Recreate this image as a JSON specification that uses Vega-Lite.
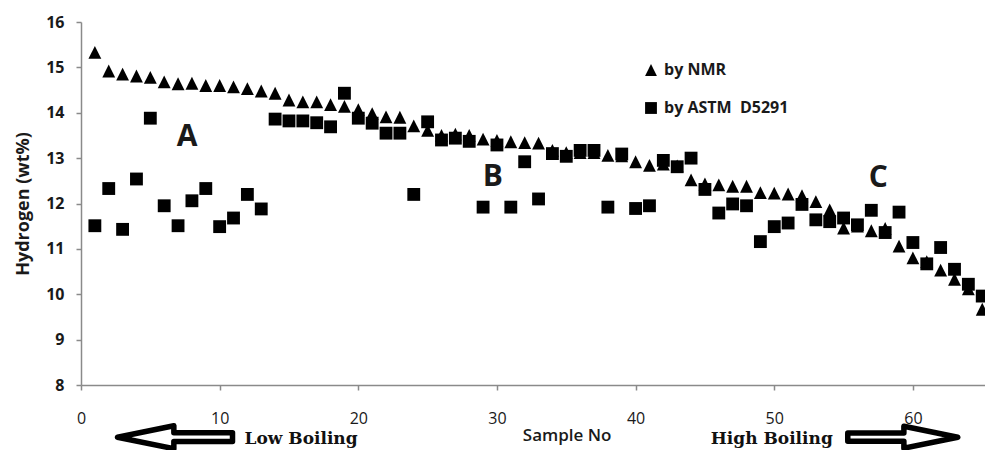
{
  "$schema": "https://vega.github.io/schema/vega-lite/v6.json",
  "width": 904,
  "height": 363,
  "autosize": {"type": "none"},
  "padding": {"left": 81, "top": 22, "right": 0, "bottom": 65},
  "background": "white",
  "config": {"view": {"stroke": null}, "font": "Open Sans"},
  "datasets": {
    "hydrogen": [
      {"sample": 1, "method": "by NMR", "h": 15.33}, {"sample": 2, "method": "by NMR", "h": 14.92}, {"sample": 3, "method": "by NMR", "h": 14.85}, {"sample": 4, "method": "by NMR", "h": 14.81}, {"sample": 5, "method": "by NMR", "h": 14.78},
      {"sample": 6, "method": "by NMR", "h": 14.68}, {"sample": 7, "method": "by NMR", "h": 14.64}, {"sample": 8, "method": "by NMR", "h": 14.65}, {"sample": 9, "method": "by NMR", "h": 14.6}, {"sample": 10, "method": "by NMR", "h": 14.6},
      {"sample": 11, "method": "by NMR", "h": 14.57}, {"sample": 12, "method": "by NMR", "h": 14.53}, {"sample": 13, "method": "by NMR", "h": 14.48}, {"sample": 14, "method": "by NMR", "h": 14.43}, {"sample": 15, "method": "by NMR", "h": 14.28},
      {"sample": 16, "method": "by NMR", "h": 14.24}, {"sample": 17, "method": "by NMR", "h": 14.24}, {"sample": 18, "method": "by NMR", "h": 14.18}, {"sample": 19, "method": "by NMR", "h": 14.14}, {"sample": 20, "method": "by NMR", "h": 14.07},
      {"sample": 21, "method": "by NMR", "h": 13.98}, {"sample": 22, "method": "by NMR", "h": 13.91}, {"sample": 23, "method": "by NMR", "h": 13.9}, {"sample": 24, "method": "by NMR", "h": 13.71}, {"sample": 25, "method": "by NMR", "h": 13.61},
      {"sample": 26, "method": "by NMR", "h": 13.5}, {"sample": 27, "method": "by NMR", "h": 13.53}, {"sample": 28, "method": "by NMR", "h": 13.5}, {"sample": 29, "method": "by NMR", "h": 13.42}, {"sample": 30, "method": "by NMR", "h": 13.39},
      {"sample": 31, "method": "by NMR", "h": 13.36}, {"sample": 32, "method": "by NMR", "h": 13.34}, {"sample": 33, "method": "by NMR", "h": 13.33}, {"sample": 34, "method": "by NMR", "h": 13.17}, {"sample": 35, "method": "by NMR", "h": 13.12},
      {"sample": 36, "method": "by NMR", "h": 13.12}, {"sample": 37, "method": "by NMR", "h": 13.12}, {"sample": 38, "method": "by NMR", "h": 13.06}, {"sample": 39, "method": "by NMR", "h": 13.05}, {"sample": 40, "method": "by NMR", "h": 12.92},
      {"sample": 41, "method": "by NMR", "h": 12.84}, {"sample": 42, "method": "by NMR", "h": 12.87}, {"sample": 43, "method": "by NMR", "h": 12.83}, {"sample": 44, "method": "by NMR", "h": 12.52}, {"sample": 45, "method": "by NMR", "h": 12.43},
      {"sample": 46, "method": "by NMR", "h": 12.41}, {"sample": 47, "method": "by NMR", "h": 12.38}, {"sample": 48, "method": "by NMR", "h": 12.38}, {"sample": 49, "method": "by NMR", "h": 12.24}, {"sample": 50, "method": "by NMR", "h": 12.23},
      {"sample": 51, "method": "by NMR", "h": 12.21}, {"sample": 52, "method": "by NMR", "h": 12.17}, {"sample": 53, "method": "by NMR", "h": 12.04}, {"sample": 54, "method": "by NMR", "h": 11.86}, {"sample": 55, "method": "by NMR", "h": 11.46},
      {"sample": 56, "method": "by NMR", "h": 11.5}, {"sample": 57, "method": "by NMR", "h": 11.4}, {"sample": 58, "method": "by NMR", "h": 11.45}, {"sample": 59, "method": "by NMR", "h": 11.06}, {"sample": 60, "method": "by NMR", "h": 10.8},
      {"sample": 61, "method": "by NMR", "h": 10.72}, {"sample": 62, "method": "by NMR", "h": 10.53}, {"sample": 63, "method": "by NMR", "h": 10.33}, {"sample": 64, "method": "by NMR", "h": 10.12}, {"sample": 65, "method": "by NMR", "h": 9.67},
      {"sample": 1, "method": "by ASTM\u00a0 D5291", "h": 11.51}, {"sample": 2, "method": "by ASTM\u00a0 D5291", "h": 12.33}, {"sample": 3, "method": "by ASTM\u00a0 D5291", "h": 11.43}, {"sample": 4, "method": "by ASTM\u00a0 D5291", "h": 12.54}, {"sample": 5, "method": "by ASTM\u00a0 D5291", "h": 13.88},
      {"sample": 6, "method": "by ASTM\u00a0 D5291", "h": 11.95}, {"sample": 7, "method": "by ASTM\u00a0 D5291", "h": 11.51}, {"sample": 8, "method": "by ASTM\u00a0 D5291", "h": 12.06}, {"sample": 9, "method": "by ASTM\u00a0 D5291", "h": 12.33}, {"sample": 10, "method": "by ASTM\u00a0 D5291", "h": 11.49},
      {"sample": 11, "method": "by ASTM\u00a0 D5291", "h": 11.68}, {"sample": 12, "method": "by ASTM\u00a0 D5291", "h": 12.2}, {"sample": 13, "method": "by ASTM\u00a0 D5291", "h": 11.88}, {"sample": 14, "method": "by ASTM\u00a0 D5291", "h": 13.86}, {"sample": 15, "method": "by ASTM\u00a0 D5291", "h": 13.82},
      {"sample": 16, "method": "by ASTM\u00a0 D5291", "h": 13.82}, {"sample": 17, "method": "by ASTM\u00a0 D5291", "h": 13.78}, {"sample": 18, "method": "by ASTM\u00a0 D5291", "h": 13.69}, {"sample": 19, "method": "by ASTM\u00a0 D5291", "h": 14.43}, {"sample": 20, "method": "by ASTM\u00a0 D5291", "h": 13.88},
      {"sample": 21, "method": "by ASTM\u00a0 D5291", "h": 13.77}, {"sample": 22, "method": "by ASTM\u00a0 D5291", "h": 13.55}, {"sample": 23, "method": "by ASTM\u00a0 D5291", "h": 13.55}, {"sample": 24, "method": "by ASTM\u00a0 D5291", "h": 12.2}, {"sample": 25, "method": "by ASTM\u00a0 D5291", "h": 13.8},
      {"sample": 26, "method": "by ASTM\u00a0 D5291", "h": 13.4}, {"sample": 27, "method": "by ASTM\u00a0 D5291", "h": 13.44}, {"sample": 28, "method": "by ASTM\u00a0 D5291", "h": 13.37}, {"sample": 29, "method": "by ASTM\u00a0 D5291", "h": 11.92}, {"sample": 30, "method": "by ASTM\u00a0 D5291", "h": 13.29},
      {"sample": 31, "method": "by ASTM\u00a0 D5291", "h": 11.92}, {"sample": 32, "method": "by ASTM\u00a0 D5291", "h": 12.92}, {"sample": 33, "method": "by ASTM\u00a0 D5291", "h": 12.1}, {"sample": 34, "method": "by ASTM\u00a0 D5291", "h": 13.1}, {"sample": 35, "method": "by ASTM\u00a0 D5291", "h": 13.04},
      {"sample": 36, "method": "by ASTM\u00a0 D5291", "h": 13.17}, {"sample": 37, "method": "by ASTM\u00a0 D5291", "h": 13.17}, {"sample": 38, "method": "by ASTM\u00a0 D5291", "h": 11.92}, {"sample": 39, "method": "by ASTM\u00a0 D5291", "h": 13.09}, {"sample": 40, "method": "by ASTM\u00a0 D5291", "h": 11.89},
      {"sample": 41, "method": "by ASTM\u00a0 D5291", "h": 11.95}, {"sample": 42, "method": "by ASTM\u00a0 D5291", "h": 12.95}, {"sample": 43, "method": "by ASTM\u00a0 D5291", "h": 12.81}, {"sample": 44, "method": "by ASTM\u00a0 D5291", "h": 13.0}, {"sample": 45, "method": "by ASTM\u00a0 D5291", "h": 12.31},
      {"sample": 46, "method": "by ASTM\u00a0 D5291", "h": 11.79}, {"sample": 47, "method": "by ASTM\u00a0 D5291", "h": 11.99}, {"sample": 48, "method": "by ASTM\u00a0 D5291", "h": 11.95}, {"sample": 49, "method": "by ASTM\u00a0 D5291", "h": 11.16}, {"sample": 50, "method": "by ASTM\u00a0 D5291", "h": 11.49},
      {"sample": 51, "method": "by ASTM\u00a0 D5291", "h": 11.57}, {"sample": 52, "method": "by ASTM\u00a0 D5291", "h": 11.98}, {"sample": 53, "method": "by ASTM\u00a0 D5291", "h": 11.64}, {"sample": 54, "method": "by ASTM\u00a0 D5291", "h": 11.6}, {"sample": 55, "method": "by ASTM\u00a0 D5291", "h": 11.68},
      {"sample": 56, "method": "by ASTM\u00a0 D5291", "h": 11.53}, {"sample": 57, "method": "by ASTM\u00a0 D5291", "h": 11.85}, {"sample": 58, "method": "by ASTM\u00a0 D5291", "h": 11.36}, {"sample": 59, "method": "by ASTM\u00a0 D5291", "h": 11.81}, {"sample": 60, "method": "by ASTM\u00a0 D5291", "h": 11.14},
      {"sample": 61, "method": "by ASTM\u00a0 D5291", "h": 10.67}, {"sample": 62, "method": "by ASTM\u00a0 D5291", "h": 11.03}, {"sample": 63, "method": "by ASTM\u00a0 D5291", "h": 10.55}, {"sample": 64, "method": "by ASTM\u00a0 D5291", "h": 10.22}, {"sample": 65, "method": "by ASTM\u00a0 D5291", "h": 9.96}
    ],
    "regions": [
      {"sample": 7.66, "h": 13.47, "label": "A"},
      {"sample": 29.7, "h": 12.58, "label": "B"},
      {"sample": 57.5, "h": 12.56, "label": "C"}
    ],
    "boiling": [
      {"sample": 15.87, "h": 6.82, "label": "Low Boiling"},
      {"sample": 49.82, "h": 6.82, "label": "High Boiling"}
    ],
    "xlabel": [
      {"sample": 35.06, "h": 6.88, "label": "Sample No"}
    ],
    "arrowLow": [{"sample": 6.78, "h": 6.85}],
    "arrowHigh": [{"sample": 59.27, "h": 6.85}]
  },
  "encoding": {
    "x": {
      "field": "sample",
      "type": "quantitative",
      "scale": {"domain": [0, 65.2], "nice": false, "zero": false},
      "axis": {
        "title": null,
        "values": [0, 10, 20, 30, 40, 50, 60],
        "format": "d",
        "grid": false,
        "domainColor": "#8a8a8a",
        "domainWidth": 1.5,
        "tickColor": "#8a8a8a",
        "tickWidth": 1.5,
        "tickSize": 5,
        "labelPadding": 20,
        "labelFont": "Open Sans",
        "labelFontSize": 16,
        "labelColor": "#1a1a1a",
        "labelFlush": false,
        "labelOverlap": false
      }
    },
    "y": {
      "field": "h",
      "type": "quantitative",
      "scale": {"domain": [8, 16], "nice": false, "zero": false},
      "axis": {
        "title": "Hydrogen (wt%)",
        "values": [8, 9, 10, 11, 12, 13, 14, 15, 16],
        "grid": false,
        "domainColor": "#8a8a8a",
        "domainWidth": 1.5,
        "tickColor": "#8a8a8a",
        "tickWidth": 1.5,
        "tickSize": 5,
        "labelPadding": 12,
        "labelFont": "Open Sans",
        "labelFontSize": 16,
        "labelFontWeight": "bold",
        "labelColor": "#1a1a1a",
        "labelFlush": false,
        "labelOverlap": false,
        "titleFont": "Open Sans",
        "titleFontSize": 18,
        "titleFontWeight": "bold",
        "titleColor": "#1a1a1a",
        "titlePadding": 13
      }
    }
  },
  "layer": [
    {
      "data": {"name": "hydrogen"},
      "mark": {"type": "point", "filled": true, "color": "black", "opacity": 1, "size": 165, "strokeWidth": 0},
      "encoding": {
        "shape": {
          "field": "method",
          "type": "nominal",
          "scale": {"domain": ["by NMR", "by ASTM\u00a0 D5291"], "range": ["M0,-1L1,1L-1,1Z", "square"]},
          "legend": {
            "orient": "none",
            "legendX": 562,
            "legendY": 40,
            "title": null,
            "padding": 0,
            "rowPadding": 22,
            "labelFont": "Open Sans",
            "labelFontSize": 16,
            "labelFontWeight": "bold",
            "labelColor": "#1a1a1a",
            "labelOffset": 5,
            "symbolSize": 140,
            "symbolFillColor": "black",
            "symbolStrokeWidth": 0
          }
        }
      }
    },
    {
      "data": {"name": "regions"},
      "mark": {"type": "text", "font": "Open Sans", "fontSize": 30, "fontWeight": "bold", "align": "center", "baseline": "middle", "color": "#1a1a1a"},
      "encoding": {"text": {"field": "label"}}
    },
    {
      "data": {"name": "boiling"},
      "mark": {"type": "text", "font": "DejaVu Serif", "fontSize": 17, "fontWeight": "bold", "align": "center", "baseline": "middle", "color": "#111111"},
      "encoding": {"text": {"field": "label"}}
    },
    {
      "data": {"name": "xlabel"},
      "mark": {"type": "text", "font": "Open Sans", "fontSize": 17, "fontWeight": 600, "align": "center", "baseline": "middle", "color": "#1a1a1a"},
      "encoding": {"text": {"field": "label"}}
    },
    {
      "data": {"name": "arrowLow"},
      "mark": {"type": "point", "shape": "M-1,0L-0.02,-0.2L-0.02,-0.075L1,-0.075L1,0.075L-0.02,0.075L-0.02,0.2Z", "size": 13225, "filled": true, "fill": "white", "stroke": "black", "strokeWidth": 5.5, "strokeJoin": "round", "opacity": 1}
    },
    {
      "data": {"name": "arrowHigh"},
      "mark": {"type": "point", "shape": "M1,0L0.02,-0.2L0.02,-0.075L-1,-0.075L-1,0.075L0.02,0.075L0.02,0.2Z", "size": 12100, "filled": true, "fill": "white", "stroke": "black", "strokeWidth": 5.5, "strokeJoin": "round", "opacity": 1}
    }
  ]
}
